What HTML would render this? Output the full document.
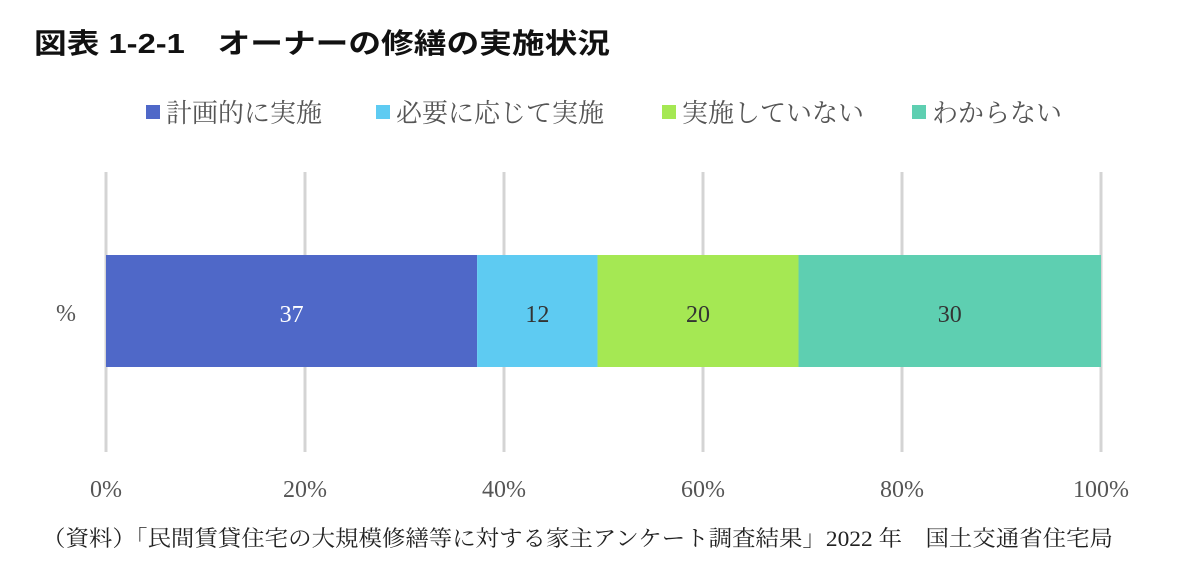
<!DOCTYPE html>
<html><head><meta charset="utf-8">
<style>
body{margin:0;background:#fff;width:1187px;height:571px;overflow:hidden;}
svg text{font-family:"Liberation Serif","Noto Serif CJK JP","Noto Serif CJK SC",serif;}
</style></head>
<body>
<svg id="chart" width="1187" height="571">
<text x="34" y="53" font-size="28" font-weight="bold" fill="#111" textLength="576" lengthAdjust="spacingAndGlyphs" style='font-family:"Liberation Sans","Noto Sans CJK JP",sans-serif'>図表 1-2-1　オーナーの修繕の実施状況</text>
<g id="legend"></g>
<g id="grid"></g>
<g id="bars"></g>
<g id="ticks"></g>
<text x="66" y="321" font-size="24" fill="#555" text-anchor="middle">%</text>
<text x="42" y="546" font-size="22" fill="#222" textLength="1071" lengthAdjust="spacingAndGlyphs">（資料）「民間賃貸住宅の大規模修繕等に対する家主アンケート調査結果」2022 年　国土交通省住宅局</text>
</svg>
<script>
const categories=["計画的に実施","必要に応じて実施","実施していない","わからない"];
const values=[37.3,12.1,20.2,30.4];
const labels=["37","12","20","30"];
const tickValues=[0,20,40,60,80,100];
const tickLabels=["0%","20%","40%","60%","80%","100%"];
const colors=["#4f68c8","#5ecbf2","#a5e853","#5ecfb1"];
const textColors=["#fff","#333","#333","#333"];
const NS="http://www.w3.org/2000/svg";
const x0=106,x1=1101;
function xs(v){return x0+(x1-x0)*v/100;}
function mk(tag,attrs,parent){const e=document.createElementNS(NS,tag);for(const k in attrs)e.setAttribute(k,attrs[k]);parent.appendChild(e);return e;}
const grid=document.getElementById('grid'),ticks=document.getElementById('ticks'),bars=document.getElementById('bars'),legend=document.getElementById('legend');
tickValues.forEach((t,i)=>{
  const l=mk('line',{x1:xs(t),x2:xs(t),y1:172,y2:452,stroke:'#d4d4d4','stroke-width':3},grid);
  
  
  const tx=mk('text',{x:xs(t),y:497,'font-size':24,fill:'#555','text-anchor':'middle'},ticks);
  tx.textContent=tickLabels[i];
  
  
});
let acc=0;
values.forEach((v,i)=>{
  const r=mk('rect',{x:xs(acc),y:255,width:xs(acc+v)-xs(acc),height:112,fill:colors[i]},bars);
  
  
  const t=mk('text',{x:(xs(acc)+xs(acc+v))/2,y:322,'font-size':24,fill:textColors[i],'text-anchor':'middle'},bars);
  t.textContent=labels[i];
  
  
  acc+=v;
});
const lx=[146,376,662,912];
categories.forEach((c,i)=>{
  const g=mk('g',{},legend);
  
  
  mk('rect',{x:lx[i],y:105,width:14,height:14,fill:colors[i]},g);
  const t=mk('text',{x:lx[i]+20,y:122,'font-size':26,fill:'#555'},g);
  t.textContent=c;
});
</script>
</body></html>
